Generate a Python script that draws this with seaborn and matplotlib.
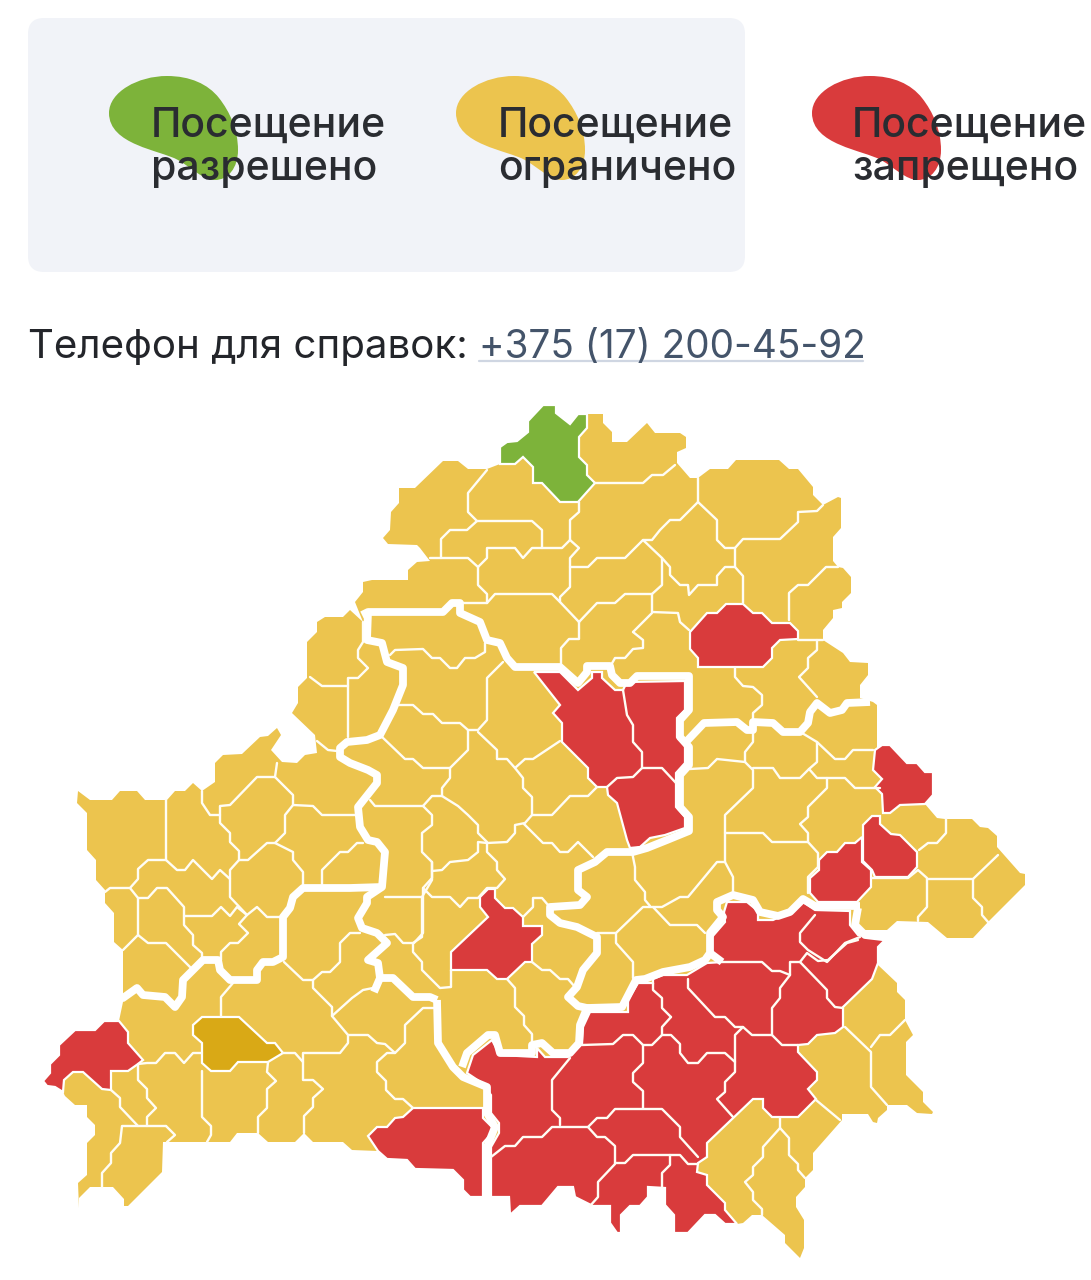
import pandas as pd
import matplotlib.pyplot as plt
from matplotlib.patches import FancyBboxPatch, PathPatch
from matplotlib.path import Path
import seaborn as sns

# Colours
YELLOW = '#ecc44e'
RED = '#d93b3c'
GREEN = '#7db33a'
DARK_YELLOW = '#d9a916'

# Legend texts
legend_first_line = ['Посещение', 'Посещение', 'Посещение']
legend_second_line = ['разрешено', 'ограничено', 'запрещено']
legend_colors = [GREEN, YELLOW, RED]
legend_blob_dx = [0, 347, 703]
legend_text_x = [151, 498, 852]
phone_label = 'Телефон для справок:'
phone_number = '+375 (17) 200-45-92'

# Map outline (pixels)
south_edge = [(737, 1224), (725, 1224), (715, 1215), (705, 1215), (688, 1233), (674, 1233), (674, 1215), (665, 1205),
              (665, 1188), (648, 1187), (648, 1197), (640, 1206), (630, 1206), (621, 1215), (621, 1233), (617, 1233),
              (610, 1223), (610, 1206), (593, 1206), (575, 1197), (573, 1187), (558, 1187), (542, 1206), (520, 1206),
              (510, 1215), (509, 1197), (491, 1197)]
outline_north = [(383, 538), (390, 530), (391, 512), (399, 503), (399, 488), (415, 488), (443, 461), (458, 461),
                 (468, 469), (487, 469), (500, 464), (500, 447), (507, 442), (517, 441), (528, 432), (528, 421),
                 (543, 405), (556, 405), (556, 413), (570, 424), (578, 414), (603, 414), (603, 423), (612, 432),
                 (612, 442), (627, 442), (647, 423), (655, 433), (680, 433), (686, 437), (686, 448), (677, 452),
                 (677, 463), (690, 478), (698, 478), (710, 469), (728, 469), (736, 460), (779, 460), (789, 469),
                 (798, 469), (813, 487), (813, 495), (823, 505), (838, 497), (841, 498), (841, 528), (833, 537),
                 (833, 561), (838, 567), (843, 568), (851, 577), (851, 593), (842, 602), (842, 608), (833, 610),
                 (833, 618), (823, 630), (823, 640), (843, 653), (850, 662), (868, 663), (868, 675), (860, 685),
                 (860, 698), (873, 702), (877, 705), (877, 748)]
outline_east = [(882, 745), (890, 745), (907, 763), (917, 763), (925, 772), (933, 772), (933, 795), (925, 804),
                (937, 818), (945, 819), (972, 819), (980, 827), (988, 828), (997, 836), (997, 847), (1020, 873),
                (1025, 874), (1025, 885), (988, 922), (973, 938), (947, 938), (928, 922), (897, 921), (887, 930),
                (863, 930), (858, 924), (858, 935), (887, 938), (878, 947), (878, 965), (897, 983), (897, 992),
                (905, 1000), (905, 1020), (913, 1035), (906, 1042), (906, 1075), (923, 1092), (923, 1102), (933, 1112),
                (932, 1114), (917, 1113), (907, 1105), (887, 1105), (887, 1110), (878, 1118), (877, 1123), (873, 1122),
                (868, 1114), (842, 1114), (842, 1120), (813, 1153), (813, 1170), (805, 1178), (805, 1187), (796, 1197),
                (796, 1207), (804, 1220), (804, 1248), (800, 1258), (785, 1243), (785, 1235), (762, 1215), (752, 1215),
                (743, 1223)]
outline_south = [(483, 1197), (470, 1197), (463, 1190), (463, 1180), (453, 1170), (415, 1169), (407, 1160), (387, 1159),
                 (378, 1151), (352, 1150), (343, 1142), (313, 1142), (304, 1133), (295, 1142), (268, 1142), (258, 1133),
                 (237, 1133), (230, 1142), (163, 1142), (162, 1172), (128, 1206), (124, 1206), (124, 1199), (113, 1187),
                 (90, 1187), (79, 1198), (79, 1208), (78, 1183), (87, 1175), (87, 1143), (95, 1135), (95, 1125),
                 (87, 1117), (87, 1105), (75, 1105), (65, 1096), (63, 1092)]
outline_west = [(55, 1087), (47, 1086), (43, 1081), (50, 1073), (50, 1064), (59, 1055), (59, 1045), (75, 1030), (95, 1030),
                (104, 1021), (119, 1021), (123, 1002), (123, 950), (114, 942), (114, 913), (105, 903), (105, 890),
                (96, 880), (96, 860), (87, 850), (87, 813), (77, 803), (78, 791), (90, 800), (112, 800), (120, 791),
                (137, 791), (145, 800), (167, 800), (175, 791), (185, 791), (193, 783), (202, 791), (215, 782),
                (215, 763), (223, 755), (242, 754), (260, 737), (268, 736), (277, 728), (281, 735), (271, 750),
                (282, 762), (297, 763), (305, 755), (317, 753), (315, 735), (292, 713), (298, 703), (298, 687),
                (307, 678), (307, 642), (317, 632), (317, 622), (325, 617), (343, 617), (350, 610), (363, 622),
                (355, 602), (363, 592), (363, 582), (372, 580), (408, 580), (408, 570), (417, 562), (430, 561),
                (420, 548), (417, 545), (388, 544)]

# Districts with another status
green_district = [(500, 464), (500, 447), (507, 442), (517, 441), (528, 432), (528, 421), (543, 405), (556, 405), (556, 413),
                  (570, 424), (578, 414), (587, 414), (587, 428), (579, 437), (579, 457), (587, 465), (587, 475), (595, 483),
                  (578, 502), (560, 502), (542, 483), (533, 483), (533, 467), (523, 457), (515, 464)]
ochre_district = [(202, 1017), (239, 1017), (267, 1043), (275, 1043), (283, 1053), (268, 1062), (238, 1062), (230, 1071),
                  (211, 1071), (202, 1063), (202, 1043), (193, 1035), (193, 1025)]
red_orsha = [(534, 672), (560, 672), (578, 690), (592, 678), (592, 672), (602, 672), (602, 678), (615, 690), (623, 690),
             (627, 682), (685, 681), (685, 710), (677, 718), (677, 737), (685, 745), (685, 763), (676, 773), (676, 807),
             (685, 817), (685, 828), (665, 835), (650, 838), (640, 847), (630, 848), (627, 840), (617, 803), (608, 795),
             (607, 787), (597, 787), (588, 778), (588, 768), (562, 742), (562, 723), (553, 713), (560, 705)]
red_north = [(690, 632), (707, 613), (717, 613), (726, 604), (743, 604), (753, 613), (762, 613), (772, 623), (790, 623),
             (798, 631), (798, 639), (780, 640), (772, 648), (772, 658), (763, 667), (698, 667), (698, 658), (690, 649)]
red_east_a = [(875, 750), (882, 745), (890, 745), (907, 763), (917, 763), (925, 772), (933, 772), (933, 795), (925, 804),
              (900, 805), (890, 813), (883, 813), (882, 794), (875, 787), (882, 779), (873, 770)]
red_east_b = [(863, 825), (872, 816), (880, 816), (880, 824), (891, 834), (900, 835), (917, 852), (917, 867), (908, 877),
              (875, 877), (872, 870), (863, 861)]
red_east_c = [(862, 837), (862, 862), (871, 870), (871, 887), (857, 902), (818, 902), (810, 893), (810, 878), (819, 870),
              (819, 860), (827, 852), (837, 852), (845, 843), (855, 843)]
red_centre = [(480, 897), (488, 889), (495, 889), (495, 898), (505, 908), (513, 908), (523, 917), (523, 926), (542, 926),
              (542, 935), (532, 944), (532, 962), (525, 962), (507, 979), (497, 979), (487, 970), (451, 970), (451, 952),
              (488, 917), (480, 907)]
red_west = [(119, 1021), (128, 1032), (128, 1043), (143, 1060), (138, 1064), (128, 1071), (111, 1071), (111, 1090),
            (102, 1089), (83, 1072), (73, 1072), (64, 1080), (63, 1092), (55, 1087), (47, 1086), (43, 1081), (50, 1073),
            (50, 1064), (59, 1055), (59, 1045), (75, 1030), (95, 1030), (104, 1021)]
red_south_west = [(413, 1108), (483, 1108), (483, 1118), (492, 1127), (492, 1133), (483, 1143), (483, 1197), (470, 1197),
                  (463, 1190), (463, 1180), (453, 1170), (415, 1169), (407, 1160), (387, 1159), (378, 1151), (368, 1136),
                  (377, 1127), (387, 1127), (395, 1118), (403, 1117)]
red_gomel_top = [(727, 902), (747, 902), (758, 911), (758, 920), (773, 920), (790, 912), (803, 902), (815, 910), (850, 911),
                 (850, 925), (858, 935), (887, 938), (878, 947), (878, 963), (872, 979), (843, 1007), (843, 1027),
                 (835, 1033), (817, 1035), (808, 1044), (798, 1045), (798, 1052), (817, 1072), (817, 1080), (808, 1089),
                 (816, 1099), (798, 1117), (772, 1117), (763, 1108), (763, 1099), (753, 1099), (707, 1143), (707, 1157),
                 (698, 1163), (697, 1172), (707, 1175), (707, 1185), (725, 1203), (725, 1210)]
red_gomel_left = [(491, 1147), (499, 1133), (499, 1123), (491, 1113), (491, 1095), (482, 1083), (467, 1073), (473, 1055),
                  (492, 1040), (500, 1055), (537, 1057), (537, 1048), (545, 1057), (568, 1057), (582, 1044), (583, 1027),
                  (590, 1012), (628, 1012), (628, 1000), (638, 983), (653, 983), (653, 979), (663, 975), (687, 975),
                  (707, 963), (723, 962), (712, 952), (712, 937), (725, 922), (724, 912)]

# Oblast borders
thick_borders = [
    [(362, 615), (368, 612), (443, 612), (452, 603), (460, 603), (460, 613), (480, 622), (487, 640), (500, 643), (507, 658),
     (515, 667), (560, 667), (578, 683), (587, 672), (587, 666), (610, 666), (612, 675), (620, 683), (630, 683), (637, 676),
     (689, 676), (689, 710), (680, 720), (680, 737), (689, 747), (689, 765), (680, 775), (680, 807), (689, 817), (689, 831),
     (667, 840), (647, 848), (633, 852), (607, 852), (595, 862), (578, 870), (578, 890), (587, 897), (580, 905), (550, 907),
     (550, 915), (560, 923), (577, 927), (597, 937), (597, 953), (583, 970), (577, 987), (568, 997), (578, 1006), (587, 1008),
     (580, 1025), (579, 1043), (570, 1053), (553, 1053), (542, 1043), (532, 1045), (532, 1053), (500, 1053), (495, 1035),
     (488, 1035), (467, 1053), (462, 1067)],
    [(686, 742), (704, 723), (737, 722), (747, 730), (753, 730), (753, 722), (773, 723), (783, 732), (800, 732),
     (808, 723), (810, 712), (817, 703), (830, 713), (842, 710), (847, 703), (870, 702)],
    [(860, 906), (815, 906), (803, 899), (790, 912), (778, 916), (760, 912), (753, 900), (733, 895), (717, 902), (717, 910),
     (723, 917), (710, 933), (710, 953), (705, 960), (690, 967), (663, 972), (645, 979), (636, 980), (622, 1007), (587, 1008)],
    [(710, 953), (722, 962)],
    [(858, 908), (855, 925), (865, 935), (890, 938)],
    [(437, 1000), (438, 1043), (453, 1067), (463, 1077), (487, 1087), (487, 1113), (495, 1127), (487, 1147), (487, 1200)],
    [(368, 612), (367, 640), (382, 643), (387, 662), (403, 668), (403, 685), (393, 710), (380, 735), (367, 740), (347, 742),
     (340, 748), (340, 757), (350, 763), (368, 770), (377, 775), (377, 783), (358, 807), (360, 827), (368, 840), (377, 842),
     (385, 852), (382, 887), (367, 897), (367, 903), (358, 918), (362, 928), (377, 933), (387, 943), (368, 960), (378, 963),
     (380, 978), (393, 978), (413, 997), (430, 997), (437, 1000)],
    [(380, 978), (374, 992)],
    [(382, 887), (350, 888), (303, 888), (293, 897), (290, 908), (283, 917), (283, 957), (273, 962), (263, 962), (257, 970),
     (257, 980), (230, 980), (220, 970), (218, 960), (203, 960), (183, 980), (182, 997), (175, 1007), (165, 997), (143, 995),
     (137, 988), (123, 998), (118, 998)],
]

# District borders
thin_borders = [
    [(487, 470), (468, 493), (468, 512), (477, 521), (532, 521), (542, 530), (542, 548)],
    [(477, 521), (467, 530), (450, 530), (441, 539), (441, 558)],
    [(430, 558), (468, 558), (478, 567), (478, 585), (487, 594), (487, 603)],
    [(478, 567), (487, 558), (487, 548), (515, 548), (523, 558), (532, 548), (562, 548), (570, 540), (579, 548), (570, 558),
     (570, 587), (560, 597), (560, 602), (579, 622)],
    [(570, 540), (570, 520), (579, 512), (579, 502)],
    [(487, 603), (495, 594), (552, 594), (560, 602)],
    [(463, 603), (487, 603)],
    [(579, 622), (579, 639), (569, 639), (561, 648), (561, 665)],
    [(579, 622), (597, 603), (615, 603), (625, 594), (652, 594), (652, 612), (678, 613), (680, 622), (689, 630)],
    [(652, 594), (662, 585), (662, 558), (643, 540), (625, 558), (597, 558), (588, 567), (570, 567)],
    [(643, 540), (652, 540), (660, 530), (670, 520), (680, 520), (698, 502), (717, 520), (717, 540), (725, 548), (735, 548)],
    [(662, 558), (670, 567), (670, 575), (680, 585), (688, 585), (689, 595), (698, 585), (717, 585), (717, 576), (725, 567),
     (735, 567), (743, 576), (743, 603)],
    [(735, 567), (735, 548), (743, 539), (780, 539), (798, 522), (798, 512), (817, 511), (823, 505)],
    [(698, 502), (698, 478)],
    [(595, 483), (643, 483), (652, 475), (663, 475), (675, 465)],
    [(789, 620), (789, 593), (798, 585), (808, 585), (826, 567), (838, 567)],
    [(798, 640), (823, 640)],
    [(817, 640), (817, 650), (808, 658), (808, 668), (799, 677), (817, 697)],
    [(735, 668), (735, 677), (743, 686), (753, 687), (762, 695), (762, 705), (753, 713), (753, 720)],
    [(633, 632), (643, 640), (643, 648), (633, 649), (625, 658), (615, 658), (610, 667), (610, 675)],
    [(633, 632), (652, 613)],
    [(363, 622), (363, 642), (358, 650), (358, 658), (368, 668), (358, 678), (348, 678), (348, 737)],
    [(348, 686), (322, 686), (310, 677)],
    [(317, 741), (328, 750), (337, 751), (347, 741)],
    [(275, 777), (257, 777), (230, 805), (220, 806), (220, 823), (230, 833), (230, 842), (239, 851), (239, 860), (230, 870),
     (230, 897), (247, 915), (257, 907), (267, 917), (282, 917)],
    [(277, 763), (275, 777), (293, 795), (293, 805), (285, 815), (285, 833), (275, 843), (267, 843), (248, 860), (239, 860)],
    [(293, 805), (313, 806), (322, 815), (357, 815)],
    [(275, 843), (293, 852), (293, 860), (303, 872), (303, 885)],
    [(322, 885), (322, 870), (340, 852), (348, 852), (357, 843), (363, 843)],
    [(202, 791), (202, 803), (210, 815), (220, 815)],
    [(166, 800), (166, 860), (177, 870), (185, 870), (193, 860), (212, 879), (220, 870), (230, 879)],
    [(166, 860), (148, 860), (138, 869), (138, 879), (130, 888), (110, 888), (105, 892)],
    [(130, 888), (138, 898), (138, 935), (123, 950)],
    [(138, 898), (148, 898), (157, 888), (167, 888), (184, 907), (184, 925), (193, 935), (193, 945), (202, 953), (202, 960)],
    [(184, 916), (212, 916), (221, 907), (230, 916), (237, 907), (247, 915), (239, 924), (248, 933), (238, 943), (230, 943),
     (221, 952), (221, 960)],
    [(138, 935), (148, 943), (166, 943), (191, 968)],
    [(360, 933), (350, 933), (340, 943), (340, 962), (330, 972), (322, 972), (313, 980), (313, 988), (332, 1007)],
    [(284, 962), (303, 980), (313, 980)],
    [(233, 983), (221, 997), (221, 1016)],
    [(332, 1016), (348, 1035), (348, 1043), (340, 1053), (303, 1053), (303, 1080), (313, 1080),
     (323, 1089), (313, 1098), (313, 1107), (304, 1116), (304, 1133)],
    [(332, 1007), (332, 1016)],
    [(283, 1053), (295, 1053), (303, 1062)],
    [(268, 1062), (267, 1072), (276, 1081), (267, 1089), (267, 1108), (258, 1117), (258, 1133)],
    [(202, 1071), (202, 1117), (211, 1126), (211, 1135), (207, 1142)],
    [(202, 1053), (193, 1053), (184, 1063), (175, 1053), (165, 1053), (156, 1063), (147, 1063), (138, 1064), (138, 1080),
     (147, 1089), (147, 1098), (156, 1108), (147, 1117), (147, 1126)],
    [(111, 1090), (120, 1098), (120, 1107), (138, 1126)],
    [(166, 1126), (175, 1135), (167, 1142)],
    [(166, 1126), (122, 1126), (120, 1143), (111, 1153), (111, 1163), (102, 1173), (102, 1187)],
    [(332, 1016), (352, 998), (363, 990), (373, 988)],
    [(348, 1035), (368, 1035), (377, 1043), (385, 1044), (395, 1053), (405, 1043), (405, 1025), (423, 1008), (437, 1008)],
    [(395, 1053), (387, 1053), (377, 1062), (377, 1072), (386, 1081), (386, 1090), (395, 1099), (403, 1099), (413, 1108)],
    [(370, 800), (375, 806), (423, 806), (432, 815), (432, 825), (422, 833), (422, 852), (432, 862), (432, 880), (422, 897),
     (385, 897)],
    [(422, 897), (422, 937), (413, 943), (403, 943), (395, 934), (385, 935)],
    [(413, 943), (413, 952), (422, 962), (422, 970), (440, 988), (451, 987), (451, 970)],
    [(503, 662), (487, 678), (487, 720), (478, 730), (468, 730), (460, 723), (442, 723), (433, 714), (423, 714), (413, 705),
     (398, 705)],
    [(485, 643), (485, 652), (475, 658), (465, 658), (457, 668), (450, 668), (440, 658), (432, 658), (423, 649), (395, 650),
     (390, 655)],
    [(468, 730), (468, 750), (450, 768), (450, 778), (442, 788), (442, 796), (432, 796), (423, 806)],
    [(450, 768), (423, 768), (413, 759), (405, 759), (380, 735)],
    [(478, 732), (497, 750), (497, 759), (507, 759), (515, 768), (523, 778), (523, 788), (532, 797), (532, 815), (525, 823),
     (515, 825), (515, 833), (507, 842), (487, 843)],
    [(515, 768), (525, 759), (533, 759), (560, 741)],
    [(532, 815), (552, 815), (570, 796), (588, 796), (597, 787)],
    [(524, 824), (543, 843), (552, 843), (560, 852), (568, 852), (578, 842), (593, 857)],
    [(442, 796), (458, 806), (468, 815), (478, 825), (478, 833), (487, 842), (487, 852), (497, 862), (497, 870), (505, 879),
     (497, 888), (487, 888), (478, 898), (468, 898), (460, 907), (450, 897), (432, 897), (423, 888), (432, 878), (432, 862)],
    [(432, 871), (442, 870), (450, 862), (468, 860), (478, 852), (478, 842), (487, 843)],
    [(423, 888), (423, 933), (414, 943)],
    [(523, 917), (533, 907), (533, 898), (542, 898), (548, 905)],
    [(532, 962), (542, 970), (550, 970), (560, 979), (568, 979), (575, 987)],
    [(507, 979), (515, 988), (515, 1007), (524, 1016), (524, 1025), (532, 1034), (532, 1042)],
    [(597, 933), (616, 933), (643, 907), (653, 907), (670, 925), (697, 925), (705, 933)],
    [(616, 933), (616, 943), (633, 962), (633, 978)],
    [(632, 852), (635, 867), (635, 880), (645, 892), (645, 900), (650, 906)],
    [(653, 907), (662, 907), (680, 897), (688, 897), (717, 862), (725, 862), (733, 877), (733, 893)],
    [(725, 862), (725, 815), (753, 788), (753, 770), (745, 762), (717, 759), (708, 768), (690, 769)],
    [(745, 762), (745, 752), (753, 742), (753, 733)],
    [(753, 768), (773, 768), (780, 778), (800, 778), (809, 769), (817, 762), (817, 742), (802, 733)],
    [(809, 769), (817, 778), (845, 778), (855, 788), (880, 788)],
    [(817, 742), (835, 759), (845, 759), (853, 750), (873, 750)],
    [(827, 778), (827, 788), (808, 807), (808, 817), (800, 824), (808, 833), (808, 842), (818, 853), (818, 867), (808, 877),
     (808, 893)],
    [(725, 833), (763, 833), (772, 842), (808, 842)],
    [(872, 878), (908, 878), (918, 870), (927, 878), (927, 907), (918, 917), (918, 921)],
    [(927, 879), (973, 879), (998, 855)],
    [(973, 879), (973, 898), (982, 907), (982, 915), (988, 922)],
    [(919, 850), (928, 843), (937, 843), (946, 833), (946, 819)],
    # inside the red block in the north-east
    [(623, 690), (627, 715), (633, 725), (633, 742), (642, 752), (642, 768), (633, 777), (617, 778), (607, 787)],
    [(642, 768), (662, 768), (676, 783)],
    # inside the red block in the south-east
    [(858, 940), (847, 943), (828, 960), (818, 961), (807, 953), (800, 962), (790, 962), (790, 975), (780, 988), (780, 998),
     (772, 1008), (772, 1035), (782, 1045), (798, 1045)],
    [(815, 915), (800, 933), (800, 942), (808, 950), (827, 962), (845, 943), (860, 937)],
    [(800, 962), (827, 990), (827, 998), (835, 1007), (843, 1008)],
    [(772, 1035), (752, 1035), (743, 1027), (735, 1035), (735, 1072), (725, 1082), (725, 1092), (717, 1099), (733, 1117)],
    [(743, 1027), (735, 1027), (725, 1017), (715, 1017), (688, 988), (688, 979)],
    [(723, 962), (762, 962), (772, 971), (780, 971), (790, 975)],
    [(735, 1062), (725, 1053), (707, 1053), (698, 1063), (688, 1063), (680, 1053), (680, 1044), (671, 1035), (662, 1035),
     (652, 1045), (643, 1045), (633, 1035), (623, 1035), (613, 1044), (582, 1045)],
    [(671, 1017), (662, 1027), (662, 1035)],
    [(671, 1017), (662, 1008), (662, 998), (653, 990), (653, 983)],
    [(643, 1045), (643, 1063), (633, 1073), (633, 1082), (643, 1091), (643, 1108)],
    [(570, 1058), (552, 1080), (552, 1110), (560, 1118), (560, 1125)],
    [(491, 1157), (505, 1146), (515, 1146), (523, 1137), (542, 1137), (552, 1127), (588, 1127), (597, 1118), (607, 1118),
     (615, 1109), (662, 1109), (680, 1127), (680, 1137), (698, 1157)],
    [(588, 1127), (597, 1137), (605, 1137), (615, 1146), (615, 1164), (598, 1182), (598, 1197), (590, 1206)],
    [(615, 1163), (625, 1163), (633, 1155), (680, 1155), (688, 1164), (698, 1164)],
    [(670, 1155), (670, 1165), (662, 1173), (662, 1187)],
    [(780, 1118), (780, 1128), (763, 1147), (763, 1157), (753, 1167), (753, 1175), (745, 1182), (753, 1192), (753, 1200),
     (762, 1209), (762, 1215)],
    [(780, 1128), (789, 1138), (789, 1155), (798, 1164), (798, 1170), (805, 1178)],
    [(816, 1100), (840, 1120)],
    [(845, 1027), (871, 1052), (871, 1087), (887, 1105)],
    [(871, 1047), (880, 1035), (890, 1035), (905, 1020)],
]

# Blob of the legend, first colour
blob_verts = [(167, 76), (190, 76), (208, 84), (219, 98), (230, 112), (238, 130), (238, 150), (238, 168), (228, 180),
              (215, 180), (203, 180), (192, 168), (178, 160), (160, 150), (109, 145), (109, 113), (109, 92), (138, 76),
              (167, 76)]


def borders_table(borders):
    rows = [(i, x, y) for i, line in enumerate(borders) for x, y in line]
    return pd.DataFrame(rows, columns=['line', 'x', 'y'])


sns.set_theme(style='white')
plt.rcParams['font.family'] = ['Inter', 'DejaVu Sans']

fig, ax = plt.subplots(figsize=(10.91, 12.8), dpi=100)
ax.set_position([0, 0, 1, 1])

# Legend card and blobs
ax.add_patch(FancyBboxPatch((42, 32), 689, 226, boxstyle='round,pad=14,rounding_size=16', fc='#f1f3f8', ec='none'))
for color, dx in zip(legend_colors, legend_blob_dx):
    verts = [(x + dx, y) for x, y in blob_verts]
    ax.add_patch(PathPatch(Path(verts, [Path.MOVETO] + [Path.CURVE4] * 18), fc=color, ec='none'))
for first, second, x in zip(legend_first_line, legend_second_line, legend_text_x):
    ax.text(x, 137, first, fontsize=29.5, color='#2a2c31', va='baseline', ha='left', fontweight='medium')
    ax.text(x, 180, second, fontsize=29.5, color='#2a2c31', va='baseline', ha='left', fontweight='medium')

# Phone line
ax.text(28, 358, phone_label, fontsize=29, color='#23252a', va='baseline', ha='left')
ax.text(479, 358, phone_number, fontsize=27.9, color='#44546a', va='baseline', ha='left')
sns.lineplot(x=[479, 863], y=[361, 361], color='#cfd6e2', linewidth=1.6, ax=ax, legend=False)

# Base silhouette, then the coloured districts
outline = outline_north + outline_east + south_edge + outline_south + outline_west
ax.fill(*zip(*outline), color=YELLOW, lw=0)

red_gomel = red_gomel_top + south_edge + red_gomel_left
for poly in [red_orsha, red_north, red_east_a, red_east_b, red_east_c, red_centre, red_west, red_south_west, red_gomel]:
    ax.fill(*zip(*poly), fc=RED, ec='white', lw=1.6)
ax.fill(*zip(*ochre_district), fc=DARK_YELLOW, ec='white', lw=1.6)

# District borders and oblast borders as white lines
sns.lineplot(data=borders_table(thin_borders), x='x', y='y', units='line', estimator=None, sort=False, color='#fffdf5',
             linewidth=1.7, ax=ax, legend=False)
ax.fill(*zip(*green_district), fc=GREEN, ec='white', lw=1.6)
sns.lineplot(data=borders_table(thick_borders), x='x', y='y', units='line', estimator=None, sort=False, color='white',
             linewidth=5.6, ax=ax, legend=False, solid_joinstyle='round', solid_capstyle='butt')

ax.set_xlim(0, 1091)
ax.set_ylim(1280, 0)
ax.axis('off')
fig.savefig('out.png', dpi=100)
